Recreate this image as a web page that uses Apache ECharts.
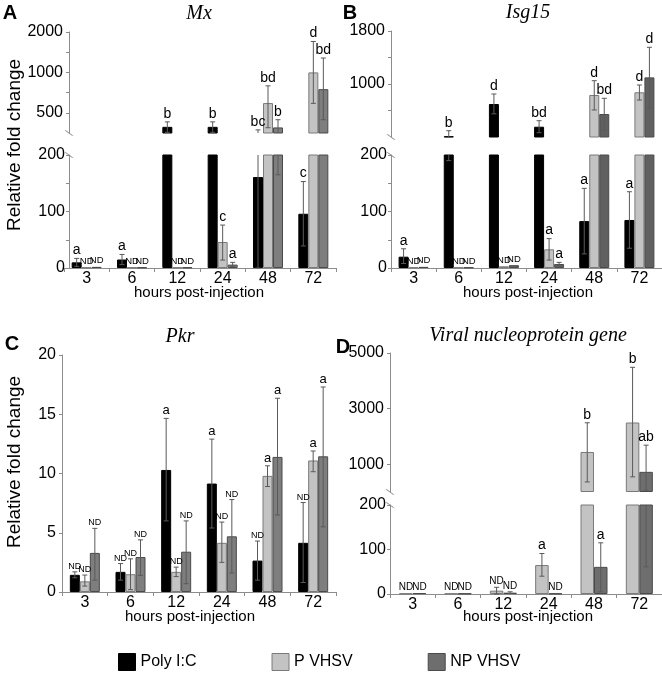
<!DOCTYPE html>
<html><head><meta charset="utf-8">
<script src="https://cdn.jsdelivr.net/npm/echarts@6/dist/echarts.min.js"></script>
<style>html,body{margin:0;padding:0;background:#fff}#c{width:662px;height:674px}</style>
</head><body><div id="c"></div>
<script>
// ---------- DATA ----------
const hours = ['3', '6', '12', '24', '48', '72'];
const seriesNames = ['Poly I:C', 'P VHSV', 'NP VHSV'];

// Panel A: Mx  (error bars given as [low, high])
const mxPolyIC = [10, 15, 393, 393, 161, 96];
const mxPolyICErr = [[3, 17], [6, 24], [358, 428], [358, 428], [0, 373], [39, 153]];
const mxPolyICSig = ['a', 'a', 'b', 'b', 'bc', 'c'];
const mxPVHSV = [1, 1, 1, 46, 591, 1000];
const mxPVHSVErr = [null, null, null, [14, 76], [387, 794], [588, 1700]];
const mxPVHSVSig = ['ND', 'ND', 'ND', 'c', 'bd', 'd'];
const mxNPVHSV = [2, 1, 1, 6, 389, 750];
const mxNPVHSVErr = [null, null, null, [3, 10], [165, 444], [444, 1280]];
const mxNPVHSVSig = ['ND', 'ND', 'ND', 'a', 'b', 'bd'];

// Panel B: Isg15
const isgPolyIC = [20, 212, 698, 355, 83, 85];
const isgPolyICErr = [[8, 34], [190, 295], [550, 849], [265, 446], [25, 141], [35, 135]];
const isgPolyICSig = ['a', 'b', 'd', 'bd', 'a', 'a'];
const isgPVHSV = [1, 1, 3, 33, 834, 875];
const isgPVHSVErr = [null, null, null, [14, 52], [608, 1050], [758, 985]];
const isgPVHSVSig = ['ND', 'ND', 'ND', 'a', 'd', 'd'];
const isgNPVHSV = [2, 1, 5, 7, 547, 1100];
const isgNPVHSVErr = [null, null, null, [4, 10], [306, 784], [633, 1554]];
const isgNPVHSVSig = ['ND', 'ND', 'ND', 'a', 'bd', 'd'];

// Panel C: Pkr
const pkrPolyIC = [1.45, 1.7, 10.3, 9.15, 2.65, 4.15];
const pkrPolyICErr = [[1.2, 1.7], [1.0, 2.4], [6.0, 14.65], [5.4, 12.9], [1.0, 4.3], [0.8, 7.55]];
const pkrPolyICSig = ['ND', 'ND', 'a', 'a', 'ND', 'ND'];
const pkrPVHSV = [0.9, 1.5, 1.7, 4.15, 9.8, 11.1];
const pkrPVHSVErr = [[0.5, 1.43], [0.2, 2.8], [1.3, 2.1], [2.5, 5.9], [8.9, 10.65], [10.15, 11.9]];
const pkrPVHSVSig = ['ND', 'ND', 'ND', 'ND', 'a', 'a'];
const pkrNPVHSV = [3.3, 2.95, 3.4, 4.7, 11.4, 11.45];
const pkrNPVHSVErr = [[1.0, 5.37], [1.4, 4.4], [0.7, 6.0], [1.6, 7.8], [6.5, 16.35], [5.5, 17.3]];
const pkrNPVHSVSig = ['ND', 'ND', 'ND', 'ND', 'a', 'a'];

// Panel D: Viral nucleoprotein gene
const virPVHSV = [1, 1, 7.5, 65, 1440, 2500];
const virPVHSVErr = [null, null, [0, 15], [40, 91], [362, 2490], [545, 4485]];
const virPVHSVSig = ['ND', 'ND', 'ND', 'a', 'b', 'b'];
const virNPVHSV = [2, 1, 3, 1, 61, 725];
const virNPVHSVErr = [null, null, [1, 5], null, [5, 115], [61, 1685]];
const virNPVHSVSig = ['ND', 'ND', 'ND', 'ND', 'a', 'ab'];

// Axis tick labels
const mxTopLabels = [500, 1000, 2000];
const mxTopTicks = [500, 707.1, 1000, 1414.2, 2000];
const isgTopLabels = [1000, 1800];
const isgTopTicks = [600, 1000, 1400, 1800];
const virTopLabels = [1000, 3000, 5000];
const lowLabels = [0, 100, 200];

// ---------- STYLE ----------
const SANS = '"Liberation Sans", Arial, sans-serif';
const SERIF = '"Liberation Serif", "Times New Roman", serif';
const AX = '#8c8c8c';
const ERR = '#5a5a5a';
const COL = { poly: '#000000', p: '#c3c3c3', np: '#7e7e7e', npDark: '#606060' };
const BORDER = { poly: '#000000', p: '#7a7a7a', np: '#4a4a4a' };
const SPLIT = 200;
const BREAK_SYMBOL = 'path://M0,0L1.6,0L10,6L8.4,6Z';
const plain = v => String(Math.round(v));

const grid = [
  { left: 64, top: 32, width: 272, height: 101 },   // 0 A top
  { left: 64, top: 155, width: 272, height: 113 },  // 1 A bottom
  { left: 391, top: 31, width: 272, height: 106 },  // 2 B top
  { left: 391, top: 155, width: 272, height: 113 }, // 3 B bottom
  { left: 62, top: 355, width: 274, height: 237 },  // 4 C
  { left: 390, top: 353, width: 273, height: 139 }, // 5 D top
  { left: 390, top: 505, width: 273, height: 89 }   // 6 D bottom
];
const topGrids = [0, 2, 5];
const yOffsets = [-5, -5, 0, 0, 0, 0, 0];

const xAxis = grid.map((g, i) => {
  const show = topGrids.indexOf(i) < 0;
  return {
    type: 'category', gridIndex: i, data: hours, show: show,
    axisLine: { show: show, lineStyle: { color: AX, width: 1 } },
    axisTick: { show: show, length: 4, lineStyle: { color: AX } },
    axisLabel: { show: show, color: '#000', fontSize: 16, fontFamily: SANS, margin: 3 },
    splitLine: { show: false }
  };
});

function yAxisCfg(i, cfg) {
  return Object.assign({
    gridIndex: i, offset: yOffsets[i],
    splitLine: { show: false }
  }, cfg);
}
function axLine(symbol) {
  return { show: true, lineStyle: { color: AX, width: 1 }, symbol: symbol || ['none', 'none'], symbolSize: [9, 6] };
}
function lab(margin, custom) {
  const o = { color: '#000', fontSize: 16, fontFamily: SANS, margin: margin, formatter: plain };
  if (custom) o.customValues = custom;
  return o;
}
const yAxis = [
  yAxisCfg(0, { type: 'log', logBase: 2, min: 353.55, max: 2000,
    axisLine: axLine([BREAK_SYMBOL, 'none']),
    axisTick: { show: true, length: 3, lineStyle: { color: AX }, customValues: mxTopTicks },
    axisLabel: lab(6, mxTopLabels) }),
  yAxisCfg(1, { type: 'value', min: 0, max: 200, interval: 50,
    axisLine: axLine(['none', BREAK_SYMBOL]),
    axisTick: { show: true, length: 3, lineStyle: { color: AX } },
    axisLabel: lab(4, lowLabels) }),
  yAxisCfg(2, { type: 'value', min: 200, max: 1800, interval: 400,
    axisLine: axLine([BREAK_SYMBOL, 'none']),
    axisTick: { show: true, length: 3, lineStyle: { color: AX }, customValues: isgTopTicks },
    axisLabel: lab(6, isgTopLabels) }),
  yAxisCfg(3, { type: 'value', min: 0, max: 200, interval: 50,
    axisLine: axLine(['none', BREAK_SYMBOL]),
    axisTick: { show: true, length: 3, lineStyle: { color: AX } },
    axisLabel: lab(4, lowLabels) }),
  yAxisCfg(4, { type: 'value', min: 0, max: 20, interval: 5,
    axisLine: axLine(),
    axisTick: { show: true, length: 3, lineStyle: { color: AX } },
    axisLabel: lab(6) }),
  yAxisCfg(5, { type: 'value', min: 0, max: 5000, interval: 1000,
    axisLine: axLine([BREAK_SYMBOL, 'none']),
    axisTick: { show: true, length: 3, lineStyle: { color: AX }, customValues: virTopLabels },
    axisLabel: lab(6, virTopLabels) }),
  yAxisCfg(6, { type: 'value', min: 0, max: 200, interval: 100,
    axisLine: axLine(['none', BREAK_SYMBOL]),
    axisTick: { show: true, length: 3, lineStyle: { color: AX } },
    axisLabel: lab(4) })
];

const series = [];
function addBar(gi, name, vals, color, border, bw, keep) {
  series.push({
    type: 'bar', name: name, xAxisIndex: gi, yAxisIndex: gi, barWidth: bw, barGap: '0%',
    data: vals.map(v => (keep(v) ? v : '-')), clip: true, silent: true,
    itemStyle: { color: color, borderColor: border, borderWidth: 1 }, z: 2
  });
}
function addErr(gi, vals, errs, sigs, k, n, bw, range, mode, fonts) {
  series.push({
    type: 'custom', xAxisIndex: gi, yAxisIndex: gi, silent: true, clip: false, z: 4,
    data: vals.map((v, i) => [i, v]),
    renderItem: function (params, api) {
      const i = params.dataIndex;
      const v = vals[i], e = errs[i], s = sigs[i];
      const aMin = range[0], aMax = range[1];
      const off = (k - (n - 1) / 2) * bw;
      const cx = api.coord([i, aMin])[0] + off;
      const ch = [];
      if (e) {
        let use = true;
        if (mode === 'top' && e[1] <= SPLIT) use = false;
        if (mode === 'bottom' && e[0] > SPLIT) use = false;
        if (use) {
          const lo = Math.max(e[0], aMin), hi = Math.min(e[1], aMax);
          if (hi > lo) {
            const y1 = api.coord([i, lo])[1], y2 = api.coord([i, hi])[1];
            ch.push({ type: 'line', shape: { x1: cx, y1: y1, x2: cx, y2: y2 }, style: { stroke: ERR, lineWidth: 1 } });
            if (e[1] <= aMax) ch.push({ type: 'line', shape: { x1: cx - 2.5, y1: y2, x2: cx + 2.5, y2: y2 }, style: { stroke: ERR, lineWidth: 1 } });
            if (e[0] >= aMin) ch.push({ type: 'line', shape: { x1: cx - 2.5, y1: y1, x2: cx + 2.5, y2: y1 }, style: { stroke: ERR, lineWidth: 1 } });
          }
        }
      }
      const ref = e ? e[1] : v;
      const here = mode === 'single' || (mode === 'top' ? ref > SPLIT : ref <= SPLIT);
      if (s && here) {
        const ty = api.coord([i, Math.min(Math.max(ref, aMin), aMax)])[1] - 1;
        ch.push({ type: 'text', x: cx, y: ty, style: {
          text: s, fill: '#000', align: 'center', verticalAlign: 'bottom',
          fontSize: s === 'ND' ? fonts[1] : fonts[0], fontFamily: SANS } });
      }
      return { type: 'group', children: ch };
    }
  });
}

function brokenPanel(gTop, gBot, topRange, botRange, defs, bw, fonts) {
  const n = defs.length;
  defs.forEach((d) => {
    addBar(gBot, d.name, d.vals, d.color, d.border, bw, () => true);
    addBar(gTop, d.name, d.vals, d.color, d.border, bw, v => v > SPLIT);
  });
  defs.forEach((d, k) => {
    addErr(gBot, d.vals, d.err, d.sig, k, n, bw, botRange, 'bottom', fonts);
    addErr(gTop, d.vals, d.err, d.sig, k, n, bw, topRange, 'top', fonts);
  });
}

brokenPanel(0, 1, [353.55, 2000], [0, 200], [
  { name: seriesNames[0], vals: mxPolyIC, err: mxPolyICErr, sig: mxPolyICSig, color: COL.poly, border: BORDER.poly },
  { name: seriesNames[1], vals: mxPVHSV, err: mxPVHSVErr, sig: mxPVHSVSig, color: COL.p, border: BORDER.p },
  { name: seriesNames[2], vals: mxNPVHSV, err: mxNPVHSVErr, sig: mxNPVHSVSig, color: COL.np, border: BORDER.np }
], 10, [14, 9.5]);

brokenPanel(2, 3, [200, 1800], [0, 200], [
  { name: seriesNames[0], vals: isgPolyIC, err: isgPolyICErr, sig: isgPolyICSig, color: COL.poly, border: BORDER.poly },
  { name: seriesNames[1], vals: isgPVHSV, err: isgPVHSVErr, sig: isgPVHSVSig, color: COL.p, border: BORDER.p },
  { name: seriesNames[2], vals: isgNPVHSV, err: isgNPVHSVErr, sig: isgNPVHSVSig, color: COL.npDark, border: BORDER.np }
], 10, [14, 9.5]);

// Panel C (single axis)
[
  { name: seriesNames[0], vals: pkrPolyIC, err: pkrPolyICErr, sig: pkrPolyICSig, color: COL.poly, border: BORDER.poly },
  { name: seriesNames[1], vals: pkrPVHSV, err: pkrPVHSVErr, sig: pkrPVHSVSig, color: COL.p, border: BORDER.p },
  { name: seriesNames[2], vals: pkrNPVHSV, err: pkrNPVHSVErr, sig: pkrNPVHSVSig, color: COL.np, border: BORDER.np }
].forEach((d, k, arr) => {
  addBar(4, d.name, d.vals, d.color, d.border, 10, () => true);
  addErr(4, d.vals, d.err, d.sig, k, arr.length, 10, [0, 20], 'single', [13, 9]);
});

brokenPanel(5, 6, [0, 5000], [0, 200], [
  { name: seriesNames[1], vals: virPVHSV, err: virPVHSVErr, sig: virPVHSVSig, color: COL.p, border: BORDER.p },
  { name: seriesNames[2], vals: virNPVHSV, err: virNPVHSVErr, sig: virNPVHSVSig, color: '#6e6e6e', border: BORDER.np }
], 13.5, [14, 10]);

function txt(x, y, text, font, rot) {
  return { type: 'text', x: x, y: y, rotation: rot || 0, silent: true,
    style: { text: text, font: font, fill: '#000', align: 'center', verticalAlign: 'middle' } };
}
const graphic = [
  txt(10, 13, 'A', 'bold 20px ' + SANS),
  txt(350, 13, 'B', 'bold 20px ' + SANS),
  txt(12, 344, 'C', 'bold 20px ' + SANS),
  txt(343, 347, 'D', 'bold 20px ' + SANS),
  txt(199, 14, 'Mx', 'italic 20px ' + SERIF),
  txt(528, 13, 'Isg15', 'italic 20px ' + SERIF),
  txt(180, 337, 'Pkr', 'italic 20px ' + SERIF),
  txt(528, 336, 'Viral nucleoprotein gene', 'italic 20px ' + SERIF),
  txt(15, 145, 'Relative fold change', '19px ' + SANS, Math.PI / 2),
  txt(15, 462, 'Relative fold change', '19px ' + SANS, Math.PI / 2),
  txt(199, 293, 'hours post-injection', '15px ' + SANS),
  txt(528, 293, 'hours post-injection', '15px ' + SANS),
  txt(190, 617, 'hours post-injection', '15px ' + SANS),
  txt(528, 617, 'hours post-injection', '15px ' + SANS)
];

const chart = echarts.init(document.getElementById('c'), null, { renderer: 'canvas' });
chart.setOption({
  animation: false,
  backgroundColor: '#ffffff',
  grid: grid,
  xAxis: xAxis,
  yAxis: yAxis,
  series: series,
  graphic: graphic,
  legend: {
    left: 118, top: 653, padding: 0, itemWidth: 17, itemHeight: 17, itemGap: 75, icon: 'rect',
    textStyle: { fontSize: 16, fontFamily: SANS, color: '#000' },
    data: [
      { name: seriesNames[0], itemStyle: { color: COL.poly, borderColor: '#000', borderWidth: 1 } },
      { name: seriesNames[1], itemStyle: { color: COL.p, borderColor: BORDER.p, borderWidth: 1 } },
      { name: seriesNames[2], itemStyle: { color: '#6e6e6e', borderColor: BORDER.np, borderWidth: 1 } }
    ]
  }
});
</script></body></html>
